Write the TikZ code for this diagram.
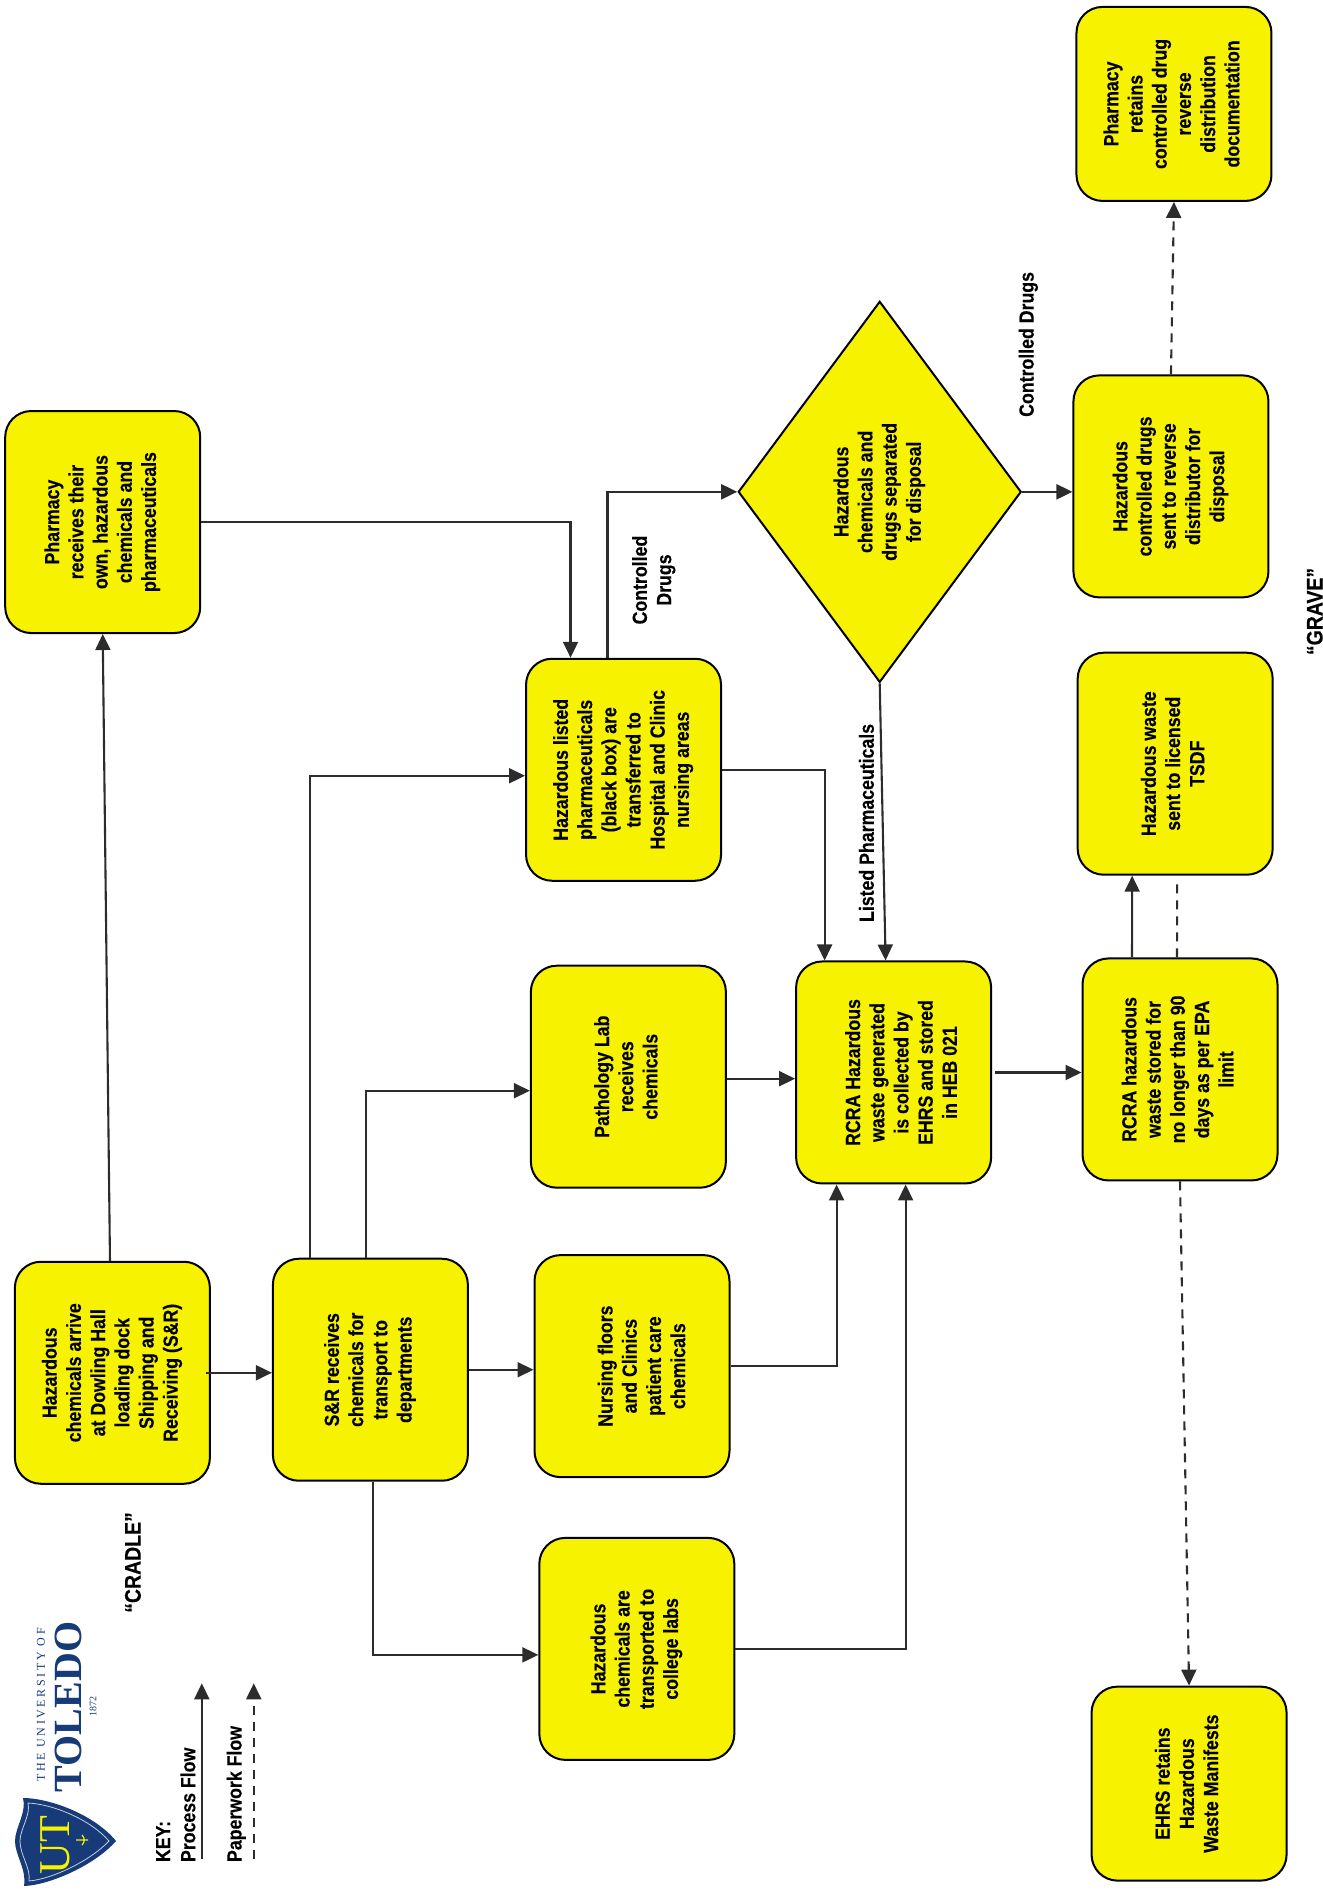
\documentclass[tikz,border=0pt]{standalone}
\usepackage{fontspec}
\usepackage{graphicx}
\setmainfont[FakeStretch=0.865,BoldFeatures={FakeBold=0.25}]{Liberation Sans}
\newfontfamily\logofont{Liberation Serif}
\newfontfamily\logospaced[LetterSpace=22]{Liberation Serif}
\usetikzlibrary{arrows.meta,shapes.geometric}
\definecolor{wasteyellow}{HTML}{F6F200}
\definecolor{linegray}{HTML}{2C2C2C}
\definecolor{utblue}{HTML}{173A78}
\newcommand{\vtext}[1]{\rotatebox{90}{\begin{tabular}{@{}c@{}}#1\end{tabular}}}
\tikzset{
	hazbox/.style={draw=black,line width=2pt,fill=wasteyellow,rounded corners=26pt,minimum width=195pt,minimum height=222pt,inner sep=0pt,font=\fontsize{20.5}{24.2}\selectfont\bfseries},
	flow/.style={draw=linegray,line width=2.1pt,-{Triangle[length=16pt,width=15pt]}},
	paperflow/.style={flow,dash pattern=on 9pt off 7pt},
	flowlabel/.style={rotate=90,font=\fontsize{20.5}{24.2}\selectfont\bfseries,align=center,inner sep=0pt}
}

\begin{document}
\begin{tikzpicture}[x=1.2084pt,y=-1.2084pt]
	\useasboundingbox (0,0) rectangle (1094,1565.7);

	\node[hazbox] (pharm) at (85,432) {\vtext{Pharmacy\\receives their\\own, hazardous\\chemicals and\\pharmaceuticals}};
	\node[hazbox] (arrive) at (93,1136) {\vtext{Hazardous\\chemicals arrive\\at Dowling Hall\\loading dock\\Shipping and\\Receiving (S\&R)}\hspace{18pt}};
	\node[hazbox] (srrec) at (306.5,1133.5) {\vtext{S\&R receives\\chemicals for\\transport to\\departments}\hspace{56pt}};
	\node[hazbox] (listed) at (516,637) {\vtext{Hazardous listed\\pharmaceuticals\\(black box) are\\transferred to\\Hospital and Clinic\\nursing areas}};
	\node[hazbox] (patho) at (520,891) {\vtext{Pathology Lab\\receives\\chemicals}\hspace{20pt}};
	\node[hazbox] (nursing) at (523,1130.5) {\hspace{24pt}\vtext{Nursing floors\\and Clinics\\patient care\\chemicals}};
	\node[hazbox] (college) at (527,1364.5) {\vtext{Hazardous\\chemicals are\\transported to\\college labs}\hspace{20pt}};
	\node[hazbox] (rcragen) at (739.5,887.5) {\hspace{20pt}\vtext{RCRA Hazardous\\waste generated\\is collected by\\EHRS and stored\\in HEB 021}};
	\node[hazbox] (rcrastored) at (976.5,885) {\vtext{RCRA hazardous\\waste stored for\\no longer than 90\\days as per EPA\\limit}};
	\node[hazbox,minimum height=194pt] (ehrs) at (984,1476) {\vtext{EHRS retains\\Hazardous\\Waste Manifests}\hspace{46pt}};
	\node[hazbox] (tsdf) at (972.5,632) {\vtext{Hazardous waste\\sent to licensed\\TSDF}};
	\node[hazbox] (ctrl) at (969,402.5) {\vtext{Hazardous\\controlled drugs\\sent to reverse\\distributor for\\disposal}};
	\node[hazbox,minimum height=194pt] (retains) at (971.5,86) {\vtext{Pharmacy\\retains\\controlled drug\\reverse\\distribution\\documentation}\hspace{6pt}};
	\node[hazbox,diamond,rounded corners=0pt,minimum width=283pt,minimum height=381pt] (sep) at (728,407) {\vtext{Hazardous\\chemicals and\\drugs separated\\for disposal}};

	\draw[flow] ([xshift=-2.4pt]arrive.north) -- (pharm.south);
	\draw[flow] ([xshift=-5pt]arrive.east) -- (arrive.east -| srrec.west);
	\draw[flow] ([xshift=-60pt]srrec.north) |- ([yshift=-6pt]listed.west);
	\draw[flow] ([xshift=-4pt]srrec.north) |- ([yshift=-14pt]patho.west);
	\draw[flow] (srrec.east) -- (srrec.east -| nursing.west);
	\draw[flow] ([xshift=3pt]srrec.south) |- ([yshift=-6pt]college.west);
	\draw[flow] (pharm.east) -| ([xshift=-53pt]listed.north);
	\draw[flow] (listed.east) -| ([xshift=-69pt]rcragen.north);
	\draw[flow] ([xshift=-16pt]listed.north) |- (sep.west);
	\draw[flow] (sep.south) -- ([xshift=-8pt]rcragen.north);
	\draw[flow] ([yshift=-2pt]patho.east) -- ([yshift=-2pt]patho.east -| rcragen.west);
	\draw[flow] (nursing.east) -| ([xshift=-57pt]rcragen.south);
	\draw[flow] (college.east) -| ([xshift=12pt]rcragen.south);
	\draw[flow] ([xshift=3pt]rcragen.east) -- (rcragen.east -| rcrastored.west);
	\draw[flow] ([xshift=-48pt]rcrastored.north) -- ([xshift=-43pt]tsdf.south);
	\draw[draw=linegray,line width=2.1pt,dash pattern=on 9pt off 7pt] ([xshift=-3pt]rcrastored.north) -- ([xshift=2pt,yshift=-7pt]tsdf.south);
	\draw[paperflow] (rcrastored.south) -- (ehrs.north);
	\draw[flow] (sep.east) -- (sep.east -| ctrl.west);
	\draw[paperflow] (ctrl.north) -- (retains.south);

	\node[flowlabel] (lblctrla) at (541,480) {Controlled\\Drugs};
	\node[flowlabel] (lblctrlb) at (851,285) {Controlled Drugs};
	\node[flowlabel] (lbllisted) at (717,681) {Listed Pharmaceuticals};
	\node[flowlabel,font=\fontsize{22.5}{27}\selectfont\bfseries] (cradle) at (110,1293) {“CRADLE”};
	\node[flowlabel,font=\fontsize{22.5}{27}\selectfont\bfseries] (grave) at (1088,506) {“GRAVE”};

	% key
	\node[flowlabel,anchor=west] (keytitle) at (135,1541) {KEY:};
	\node[flowlabel,anchor=west] (keyprocess) at (155.5,1541) {Process Flow};
	\node[flowlabel,anchor=west] (keypaper) at (195.5,1541) {Paperwork Flow};
	\coordinate (keya) at (167,1538);
	\coordinate (keyb) at (167,1393);
	\coordinate (keyc) at (210,1538);
	\coordinate (keyd) at (210,1393);
	\draw[flow] (keya) -- (keyb);
	\draw[paperflow] (keyc) -- (keyd);

	% logo
	\begin{scope}[x=1pt,y=-1pt]
		\fill[utblue] (23,1798) .. controls (50,1798) and (95,1815) .. (116,1841) .. controls (95,1865) and (50,1885) .. (24,1886) .. controls (27,1870) and (15,1855) .. (15,1841) .. controls (15,1828) and (27,1812) .. (23,1798) -- cycle;
		\draw[white!75!utblue,line width=0.8pt] (28,1803) .. controls (52,1804) and (90,1819) .. (109,1841) .. controls (90,1861) and (52,1879) .. (29,1881) .. controls (31,1868) and (20,1855) .. (20,1841) .. controls (20,1829) and (31,1815) .. (28,1803) -- cycle;
		\node[rotate=90,inner sep=0pt,text=wasteyellow,font=\logofont\fontsize{44}{44}\selectfont] (logout) at (55,1845) {UT};
		\draw[wasteyellow,line width=1.2pt] (76,1840) -- (88,1840) (82,1835) .. controls (85,1838) and (85,1842) .. (82,1845);
		\node[rotate=90,inner sep=0pt,text=utblue,font=\logospaced\fontsize{12}{12}\selectfont] (logouni) at (41,1705) {THE UNIVERSITY OF};
		\node[rotate=90,inner sep=0pt,text=utblue,font=\logofont\bfseries\fontsize{40}{40}\selectfont] (logotol) at (68,1707) {TOLEDO};
		\node[rotate=90,inner sep=0pt,text=utblue,font=\logofont\fontsize{10}{10}\selectfont] (logoyear) at (93,1706) {1872};
	\end{scope}
\end{tikzpicture}
\end{document}
